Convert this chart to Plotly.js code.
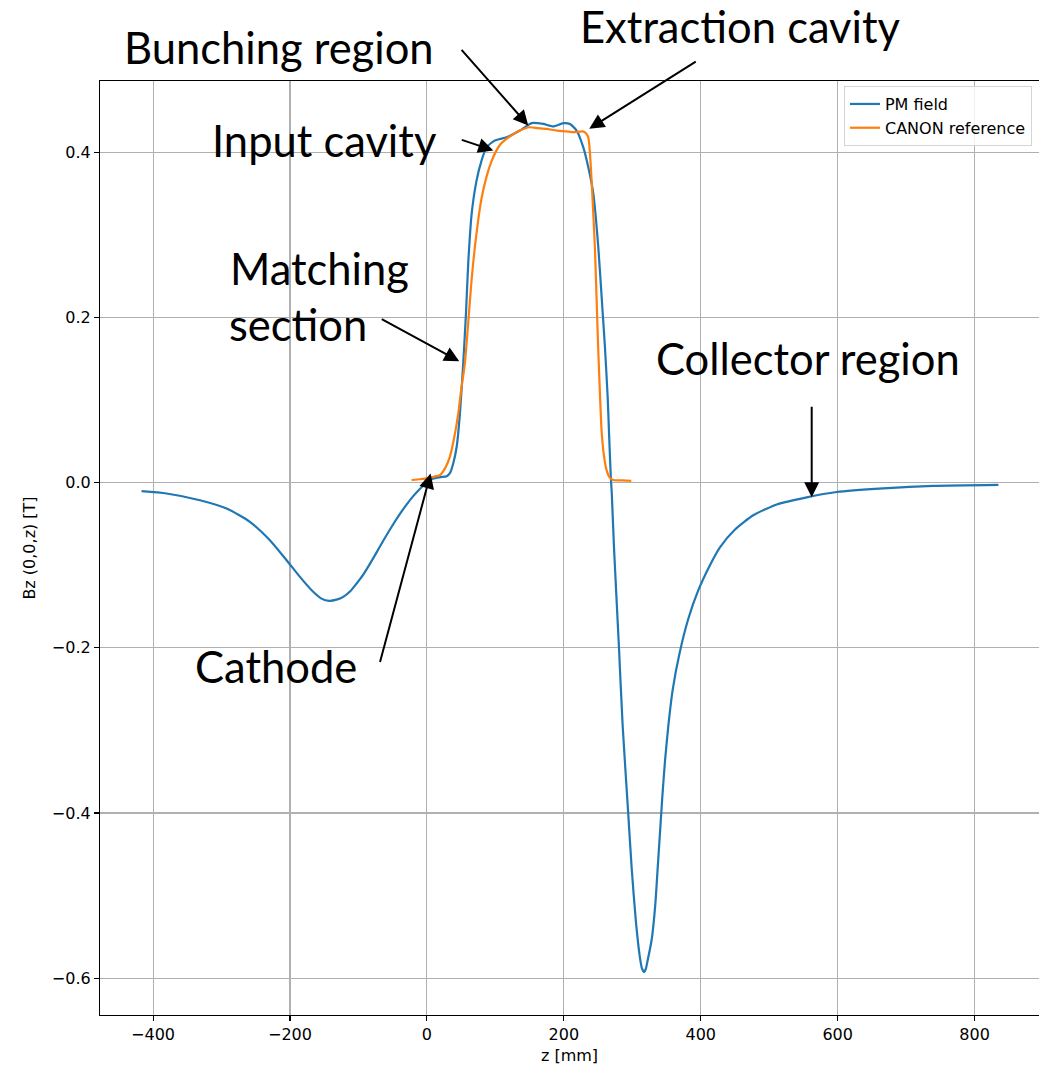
<!DOCTYPE html>
<html>
<head>
<meta charset="utf-8">
<script src="https://cdn.plot.ly/plotly-3.0.1.min.js"></script>
<style>
  html, body { margin: 0; padding: 0; background: #ffffff; }
  #chart { width: 1039px; height: 1067px; }
</style>
</head>
<body>
<div id="chart"></div>
<script>
// ---- Data ----
const seriesNames = ["PM field", "CANON reference"];

// PM field: z [mm] and Bz(0,0,z) [T]
const pmZ = [-416.8, -380.3, -331.6, -292.6, -258.6, -229.4, -205, -185.5, -166.1, -154, -142.7, -132, -122.3, -112, -102.7, -93, -83.3, -73.5, -63.8, -51.5, -39.4, -30, -20, -10, -2.9, 9.2, 20, 28.8, 34, 38.4, 43.4, 48.2, 53.0, 57.0, 60.3, 65.3, 72.6, 79.9, 87.2, 99.3, 116.4, 135.9, 153, 169.9, 184.5, 199.1, 208.9, 218.6, 228.3, 235.6, 243, 250.3, 255.2, 260, 264, 266, 268.5, 270, 273.2, 280.5, 285.9, 294.1, 299.1, 305.3, 311.2, 314.2, 317.0, 319.8, 322.5, 328.2, 333.6, 337.0, 340.4, 343.8, 347.7, 352.6, 358.9, 368.6, 381.8, 396.4, 413.4, 428.0, 450.0, 476.7, 510.9, 554.7, 598.5, 666.7, 739.7, 834.7];
const pmB = [-0.0105, -0.0133, -0.0214, -0.0315, -0.0476, -0.0698, -0.094, -0.1142, -0.1323, -0.1405, -0.1432, -0.1418, -0.1384, -0.1316, -0.1222, -0.1115, -0.0985, -0.0845, -0.0705, -0.0535, -0.038, -0.027, -0.0165, -0.0075, -0.002, 0.0048, 0.0065, 0.0076, 0.012, 0.023, 0.043, 0.0835, 0.144, 0.204, 0.265, 0.325, 0.366, 0.390, 0.406, 0.414, 0.418, 0.426, 0.435, 0.434, 0.431, 0.435, 0.434, 0.426, 0.406, 0.382, 0.35, 0.285, 0.2245, 0.164, 0.1035, 0.06, 0.008, -0.013, -0.078, -0.2, -0.2944, -0.4016, -0.4673, -0.532, -0.5753, -0.5885, -0.5925, -0.5885, -0.578, -0.5537, -0.5105, -0.4673, -0.4241, -0.3808, -0.3376, -0.2944, -0.2512, -0.2081, -0.1649, -0.1303, -0.1000, -0.0784, -0.0569, -0.0396, -0.0266, -0.0179, -0.0115, -0.0071, -0.0041, -0.0028];

// CANON reference: z [mm] and Bz [T]
const canonZ = [-22.3, -10, 0, 10, 19, 27, 33.5, 40, 45.7, 50, 55.4, 60, 65.2, 70, 74.8, 80, 87, 94, 101.6, 108, 116.2, 125, 135.6, 150, 162, 174.5, 190, 203.7, 215, 228, 232, 235.6, 238, 240.5, 242.9, 245.3, 247.7, 250.1, 252.6, 255.1, 258.5, 262.4, 267, 272.1, 285, 298.5];
const canonB = [0.003, 0.004, 0.005, 0.007, 0.009, 0.018, 0.031, 0.055, 0.083, 0.112, 0.144, 0.19, 0.245, 0.285, 0.317, 0.345, 0.370, 0.388, 0.402, 0.410, 0.416, 0.421, 0.426, 0.430, 0.429, 0.428, 0.426, 0.425, 0.424, 0.425, 0.423, 0.418, 0.400, 0.366, 0.327, 0.285, 0.225, 0.164, 0.11, 0.063, 0.033, 0.015, 0.006, 0.003, 0.0025, 0.002];

// Axis ticks
const xTickVals = [-400, -200, 0, 200, 400, 600, 800];
const yTickVals = [-0.6, -0.4, -0.2, 0.0, 0.2, 0.4];

// Labels drawn on the chart
const labelTexts = ["Bunching region", "Extraction cavity", "Input cavity", "Matching", "section", "Collector region", "Cathode"];

// ---- Figure ----
const traces = [
  { x: pmZ, y: pmB, type: "scatter", mode: "lines", name: seriesNames[0],
    line: { color: "#1f77b4", width: 2.2, shape: "spline", smoothing: 0.6 } },
  { x: canonZ, y: canonB, type: "scatter", mode: "lines", name: seriesNames[1],
    line: { color: "#ff7f0e", width: 2.2, shape: "spline", smoothing: 0.6 } }
];

const labelFont = { family: "Lato, 'Open Sans', sans-serif", size: 43.5, color: "#000000" };
function textAnn(text, x, y, xanchor, xref, yref) {
  return { text: text, x: x, y: y, xref: xref || "x", yref: yref || "y", showarrow: false,
           xanchor: xanchor || "center", yanchor: "middle", font: labelFont };
}
function arrowAnn(x, y, ax, ay) {
  return { text: "", x: x, y: y, xref: "x", yref: "y", ax: ax, ay: ay,
           showarrow: true, arrowhead: 2, arrowsize: 1.5, arrowwidth: 2,
           arrowcolor: "#000000", standoff: 0, startstandoff: 0 };
}

const annotations = [
  textAnn(labelTexts[0], 0.1906, 1.0365, "center", "paper", "paper"),
  textAnn(labelTexts[1], 0.6826, 1.0589, "center", "paper", "paper"),
  textAnn(labelTexts[2], -149, 0.414),
  textAnn(labelTexts[3], -290.3, 0.2598, "left"),
  textAnn(labelTexts[4], -292.6, 0.1915, "left"),
  textAnn(labelTexts[5], 556.6, 0.1504),
  textAnn(labelTexts[6], -220.6, -0.2222),
  arrowAnn(148, 0.4322, -68, -77),
  arrowAnn(96.9, 0.402, -33, -11),
  arrowAnn(237.1, 0.4282, 108, -68),
  arrowAnn(47.2, 0.1467, -79, -43),
  arrowAnn(5.4, 0.0109, -51, 190),
  arrowAnn(562, -0.0179, 0, -92)
];

const tickFont = { family: "'DejaVu Sans', sans-serif", size: 16, color: "#000000" };

const layout = {
  width: 1039, height: 1067,
  margin: { l: 100, r: 0, t: 81, b: 52, pad: 0 },
  paper_bgcolor: "#ffffff", plot_bgcolor: "#ffffff",
  font: tickFont,
  showlegend: true,
  legend: {
    x: 0.9925, y: 0.9946, xanchor: "right", yanchor: "top",
    bgcolor: "rgba(255,255,255,0.8)", bordercolor: "#d5d5d5", borderwidth: 1,
    font: { family: "'DejaVu Sans', sans-serif", size: 16, color: "#000000" }
  },
  xaxis: {
    range: [-477.5, 894], tickvals: xTickVals, ticks: "outside", ticklen: 5, tickwidth: 1.1,
    tickcolor: "#000000", showline: true, linecolor: "#000000", linewidth: 1.1, mirror: true,
    showgrid: true, gridcolor: "#b0b0b0", gridwidth: 1.1, zeroline: false,
    tickfont: tickFont, automargin: false,
    title: { text: "z [mm]", font: tickFont, standoff: 6 }
  },
  yaxis: {
    range: [-0.6445, 0.486], tickvals: yTickVals, tickformat: ".1f", ticks: "outside", ticklen: 5, tickwidth: 1.1,
    tickcolor: "#000000", showline: true, linecolor: "#000000", linewidth: 1.1, mirror: false,
    showgrid: true, gridcolor: "#b0b0b0", gridwidth: 1.1, zeroline: false,
    tickfont: tickFont, automargin: false,
    title: { text: "Bz (0,0,z) [T]", font: tickFont, standoff: 12 }
  },
  annotations: annotations
};

Plotly.newPlot("chart", traces, layout, { displayModeBar: false, staticPlot: true });
</script>
</body>
</html>
